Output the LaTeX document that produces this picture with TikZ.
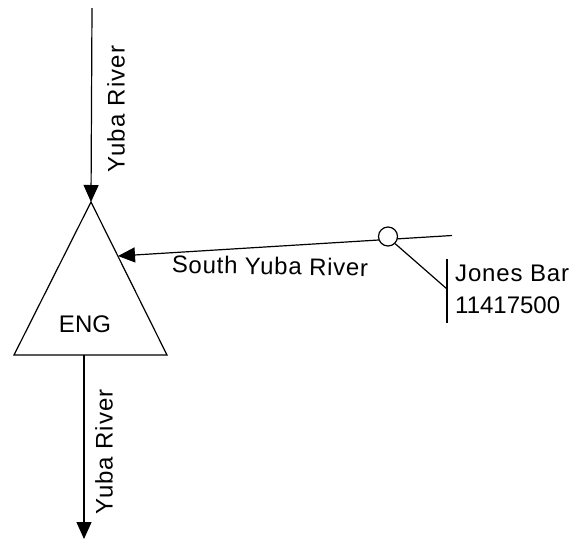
\documentclass[tikz,border=0pt]{standalone}
\usepackage{fontspec}
\setmainfont{Liberation Sans}
\usetikzlibrary{arrows.meta}
\begin{document}
\begin{tikzpicture}[x=1pt,y=-1pt,
  flow/.style={line width=1.2pt,-{Triangle[length=17pt,width=15pt]}},
  plain/.style={line width=1.2pt},
  lbl/.style={font=\fontsize{24}{32}\selectfont,inner sep=0pt}]
  \useasboundingbox (0,0) rectangle (569,547);

  % junction triangle
  \coordinate (apex) at (91,202);
  \coordinate (bl) at (14,355);
  \coordinate (br) at (167,355);
  \draw[plain,line join=miter] (apex) -- (bl) -- (br) -- cycle;
  \node[lbl] (eng) at (85,324) {ENG};

  % main stem in and out
  \coordinate (topin) at (92,8);
  \draw[flow] (topin) -- (apex);
  \node[lbl,rotate=90] (yubaA) at (116,109) {\addfontfeature{LetterSpace=5}Yuba River};

  \coordinate (baseout) at (84,355);
  \coordinate (bottomend) at (84,539);
  \draw[flow] (baseout) -- (bottomend);
  \node[lbl,rotate=90] (yubaB) at (104,452) {\addfontfeature{LetterSpace=4}Yuba River};

  % tributary with gauge
  \coordinate (tribtip) at (118,256);
  \coordinate (tribend) at (452,235.5);
  \draw[flow] (tribend) -- (tribtip);
  \node[lbl,rotate=-1] (south) at (270,266) {\addfontfeature{LetterSpace=3}South Yuba River};

  \node[draw,circle,fill=white,line width=1.2pt,minimum size=19pt,inner sep=0pt] (gauge) at (388,236.5) {};
  \coordinate (bartop) at (447,259);
  \coordinate (barbot) at (447,323);
  \coordinate (barmid) at (447,289);
  \draw[plain] (gauge.-45) -- (barmid);
  \draw[plain] (bartop) -- (barbot);
  \node[lbl,anchor=base west] (gname) at (455,281) {\addfontfeature{LetterSpace=3.5}Jones Bar};
  \node[lbl,anchor=base west] (gid) at (455,313) {11417500};
\end{tikzpicture}
\end{document}
